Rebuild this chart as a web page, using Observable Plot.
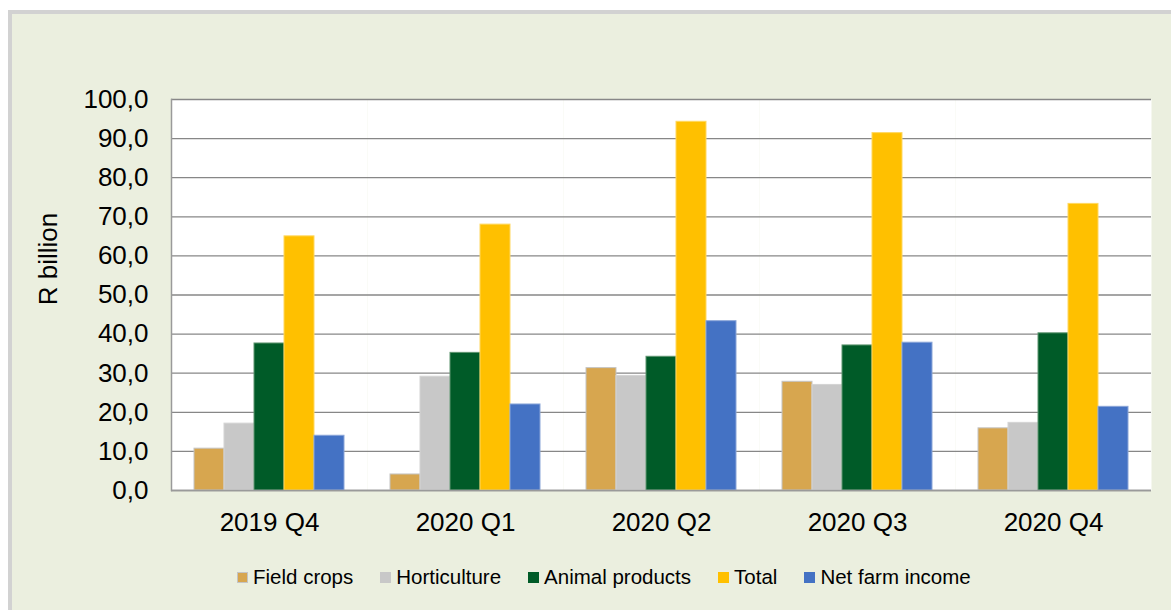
<!DOCTYPE html>
<html>
<head>
<meta charset="utf-8">
<script src="https://cdn.jsdelivr.net/npm/d3@7"></script>
<script src="https://cdn.jsdelivr.net/npm/@observablehq/plot@0.6"></script>
<style>
  html, body { margin: 0; padding: 0; width: 1171px; height: 610px; overflow: hidden; background: #ffffff; }
  #panel { position: absolute; left: 8px; top: 10px; width: 1200px; height: 640px; box-sizing: border-box;
           border: 4px solid #d2d2d2; background: #ebefdf; }
  #chart { position: absolute; left: 0; top: 0; }
  #legend { position: absolute; left: 237px; top: 565px; display: flex; align-items: center;
            font-family: "Liberation Sans", Arial, sans-serif; font-size: 20.5px; color: #000; }
  .item { display: flex; align-items: center; margin-right: 27px; }
  .sw { width: 11px; height: 11px; margin-right: 5px; box-sizing: border-box; }
</style>
</head>
<body>
<div id="panel"></div>
<div id="chart"></div>
<div id="legend"></div>
<script>
// Quarterly farm figures, R billion
const quarters = ["2019 Q4", "2020 Q1", "2020 Q2", "2020 Q3", "2020 Q4"];
const seriesNames = ["Field crops", "Horticulture", "Animal products", "Total", "Net farm income"];
const fieldCrops     = [10.7,  4.1, 31.3, 27.8, 15.9];
const horticulture   = [17.1, 29.1, 29.3, 27.0, 17.3];
const animalProducts = [37.6, 35.2, 34.2, 37.1, 40.2];
const total          = [65.0, 68.0, 94.3, 91.4, 73.3];
const netFarmIncome  = [14.0, 22.0, 43.3, 37.8, 21.4];
const yTicks = [0, 10, 20, 30, 40, 50, 60, 70, 80, 90, 100];
const yLabel = "R billion";

const colors = ["#d7a64f", "#c8c8c8", "#005b28", "#ffc000", "#4472c4"];
const outlines = ["#c4c4c4", "#d4d4d4", "#5f9570", "#ffd860", "#8aa5d8"];

const seriesValues = [fieldCrops, horticulture, animalProducts, total, netFarmIncome];
const rows = quarters.flatMap((q, i) =>
  seriesNames.map((s, j) => ({quarter: q, series: s, value: seriesValues[j][i]}))
);

const fmt = d => d.toFixed(1).replace(".", ",");
const font = "'Liberation Sans', Arial, sans-serif";

const chart = Plot.plot({
  width: 1171,
  height: 545,
  marginLeft: 169,
  marginRight: 19,
  marginTop: 99,
  marginBottom: 55,
  style: {background: "transparent", color: "#000", fontFamily: font, fontSize: "26px", overflow: "visible"},
  fx: {domain: quarters, padding: 0},
  x: {domain: seriesNames, paddingInner: 0, paddingOuter: 0.75, axis: null},
  y: {domain: [0, 100]},
  color: {domain: seriesNames, range: colors},
  marks: [
    Plot.frame({fill: "#ffffff", stroke: null}),
    Plot.gridY(yTicks, {stroke: "#878787", strokeOpacity: 1, strokeWidth: 1.3}),
    Plot.barY(rows, {
      fx: "quarter", x: "series", y: "value",
      fill: "series",
      stroke: d => outlines[seriesNames.indexOf(d.series)],
      strokeWidth: 1
    }),
    Plot.ruleY([0], {stroke: "#9a9a9a", strokeWidth: 1.5}),
    Plot.frame({anchor: "left", stroke: "#9a9a9a", strokeWidth: 1.5, fx: [quarters[0]]}),
    Plot.axisY(yTicks, {
      anchor: "left", tickSize: 0, tickPadding: 23, tickFormat: fmt, fontSize: 26, label: null
    }),
    // axis title, set a little above the middle of the y range
    Plot.text([yLabel], {
      fx: [quarters[0]], text: d => d, frameAnchor: "left", textAnchor: "middle",
      rotate: -90, dx: -123, dy: -36, fontSize: 26, fill: "#000"
    }),
    Plot.axisFx({anchor: "bottom", tickSize: 0, tickPadding: 22, fontSize: 26, label: null})
  ]
});
document.getElementById("chart").appendChild(chart);

// Legend
const legend = document.getElementById("legend");
seriesNames.forEach((s, j) => {
  const item = document.createElement("div");
  item.className = "item";
  const sw = document.createElement("span");
  sw.className = "sw";
  sw.style.background = colors[j];
  if (j === 0) sw.style.border = "1px solid #c4c4c4";
  const label = document.createElement("span");
  label.textContent = s;
  item.appendChild(sw);
  item.appendChild(label);
  legend.appendChild(item);
});
</script>
</body>
</html>
